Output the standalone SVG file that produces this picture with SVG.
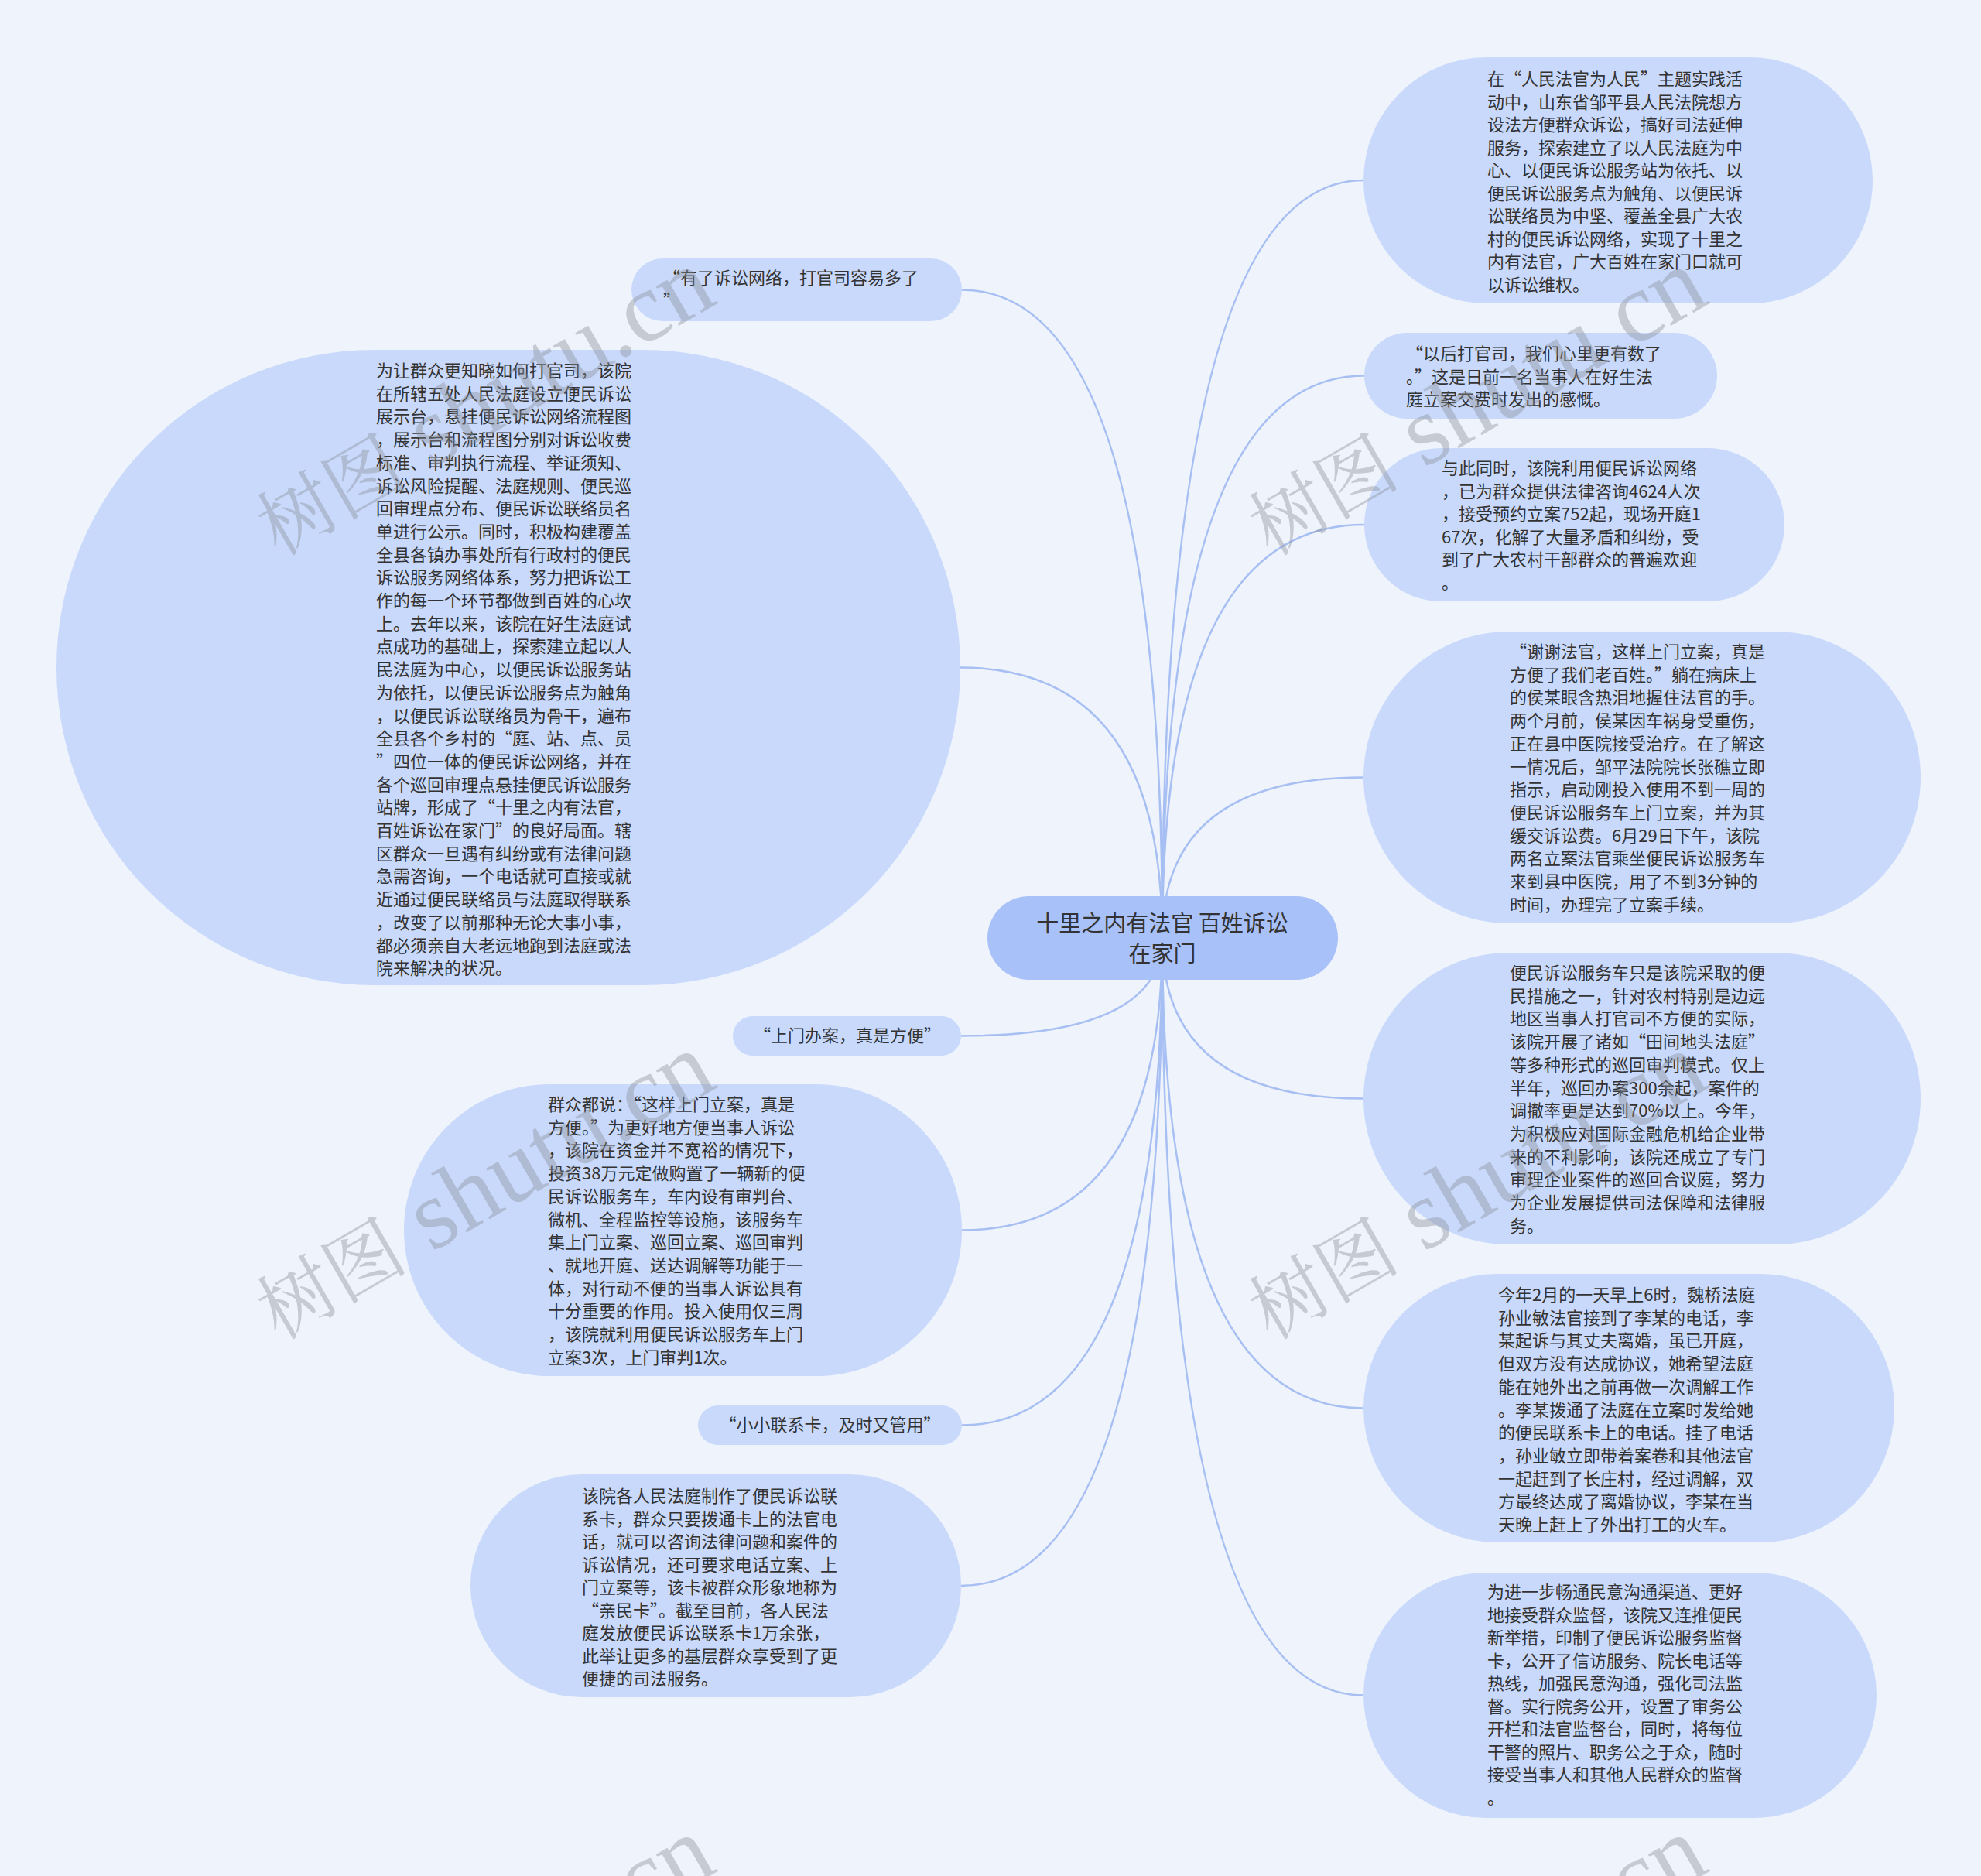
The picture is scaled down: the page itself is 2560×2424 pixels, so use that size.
<svg xmlns="http://www.w3.org/2000/svg" width="2560" height="2424" viewBox="0 0 2560 2424">
<defs>
<style>
.bg{fill:#eef3fc}
.n{fill:#c9d9fb}
.c{fill:#a9c1f9}
.t{font-family:"Noto Sans CJK SC","Microsoft YaHei",sans-serif;font-size:22px;fill:#333333}
.ct{font-family:"Noto Sans CJK SC","Microsoft YaHei",sans-serif;font-size:29px;fill:#333333}
.e{fill:none;stroke:#a7bff2;stroke-width:2.5}
.wm{font-family:"Liberation Serif","Noto Serif CJK SC","Noto Sans CJK SC",serif;font-size:128px;fill:#8a8f96;fill-opacity:0.4}
.wc{font-size:98px}
</style>
</defs>
<rect class="bg" x="0" y="0" width="2560" height="2424"/>
<g id="connectors">
<path class="e" d="M1502,1212 Q1502,233 1762,233"/>
<path class="e" d="M1502,1212 Q1502,485.5 1763,485.5"/>
<path class="e" d="M1502,1212 Q1502,678 1763,678"/>
<path class="e" d="M1502,1212 Q1502,1004.5 1762,1004.5"/>
<path class="e" d="M1502,1212 Q1502,1419.5 1762,1419.5"/>
<path class="e" d="M1502,1212 Q1502,1819.5 1762,1819.5"/>
<path class="e" d="M1502,1212 Q1502,2190.5 1762,2190.5"/>
<path class="e" d="M1502,1212 Q1502,374.5 1243,374.5"/>
<path class="e" d="M1502,1212 Q1502,862.5 1241,862.5"/>
<path class="e" d="M1502,1212 Q1502,1338.5 1242,1338.5"/>
<path class="e" d="M1502,1212 Q1502,1589.5 1243,1589.5"/>
<path class="e" d="M1502,1212 Q1502,1841.5 1243,1841.5"/>
<path class="e" d="M1502,1212 Q1502,2049 1242,2049"/>
</g>
<g id="root">
<rect class="c" x="1276" y="1158" width="453" height="108" rx="54"/>
<text class="ct" text-anchor="middle"><tspan x="1502" y="1204">十里之内有法官 百姓诉讼</tspan><tspan x="1502" y="1243">在家门</tspan></text>
</g>
<g id="r1">
<rect class="n" x="1762" y="74" width="658" height="318" rx="159"/>
<text class="t"><tspan x="1922" y="110">在“人民法官为人民”主题实践活</tspan><tspan x="1922" y="139.5">动中，山东省邹平县人民法院想方</tspan><tspan x="1922" y="169">设法方便群众诉讼，搞好司法延伸</tspan><tspan x="1922" y="198.5">服务，探索建立了以人民法庭为中</tspan><tspan x="1922" y="228">心、以便民诉讼服务站为依托、以</tspan><tspan x="1922" y="257.5">便民诉讼服务点为触角、以便民诉</tspan><tspan x="1922" y="287">讼联络员为中坚、覆盖全县广大农</tspan><tspan x="1922" y="316.5">村的便民诉讼网络，实现了十里之</tspan><tspan x="1922" y="346">内有法官，广大百姓在家门口就可</tspan><tspan x="1922" y="375.5">以诉讼维权。</tspan></text>
</g>
<g id="r2">
<rect class="n" x="1763" y="430" width="456" height="111" rx="55.5"/>
<text class="t"><tspan x="1817" y="465">“以后打官司，我们心里更有数了</tspan><tspan x="1817" y="494.5">。”这是日前一名当事人在好生法</tspan><tspan x="1817" y="524">庭立案交费时发出的感慨。</tspan></text>
</g>
<g id="r3">
<rect class="n" x="1763" y="579" width="543" height="198" rx="99"/>
<text class="t"><tspan x="1863" y="613">与此同时，该院利用便民诉讼网络</tspan><tspan x="1863" y="642.5">，已为群众提供法律咨询4624人次</tspan><tspan x="1863" y="672">，接受预约立案752起，现场开庭1</tspan><tspan x="1863" y="701.5">67次，化解了大量矛盾和纠纷，受</tspan><tspan x="1863" y="731">到了广大农村干部群众的普遍欢迎</tspan><tspan x="1863" y="760.5">。</tspan></text>
</g>
<g id="r4">
<rect class="n" x="1762" y="816" width="720" height="377" rx="188.5"/>
<text class="t"><tspan x="1951" y="850">“谢谢法官，这样上门立案，真是</tspan><tspan x="1951" y="879.7">方便了我们老百姓。”躺在病床上</tspan><tspan x="1951" y="909.4">的侯某眼含热泪地握住法官的手。</tspan><tspan x="1951" y="939.1">两个月前，侯某因车祸身受重伤，</tspan><tspan x="1951" y="968.8">正在县中医院接受治疗。在了解这</tspan><tspan x="1951" y="998.5">一情况后，邹平法院院长张礁立即</tspan><tspan x="1951" y="1028.2">指示，启动刚投入使用不到一周的</tspan><tspan x="1951" y="1057.9">便民诉讼服务车上门立案，并为其</tspan><tspan x="1951" y="1087.6">缓交诉讼费。6月29日下午，该院</tspan><tspan x="1951" y="1117.3">两名立案法官乘坐便民诉讼服务车</tspan><tspan x="1951" y="1147">来到县中医院，用了不到3分钟的</tspan><tspan x="1951" y="1176.7">时间，办理完了立案手续。</tspan></text>
</g>
<g id="r5">
<rect class="n" x="1762" y="1231" width="720" height="377" rx="188.5"/>
<text class="t"><tspan x="1951" y="1265">便民诉讼服务车只是该院采取的便</tspan><tspan x="1951" y="1294.7">民措施之一，针对农村特别是边远</tspan><tspan x="1951" y="1324.4">地区当事人打官司不方便的实际，</tspan><tspan x="1951" y="1354.1">该院开展了诸如“田间地头法庭”</tspan><tspan x="1951" y="1383.8">等多种形式的巡回审判模式。仅上</tspan><tspan x="1951" y="1413.5">半年，巡回办案300余起，案件的</tspan><tspan x="1951" y="1443.2">调撤率更是达到70%以上。今年，</tspan><tspan x="1951" y="1472.9">为积极应对国际金融危机给企业带</tspan><tspan x="1951" y="1502.6">来的不利影响，该院还成立了专门</tspan><tspan x="1951" y="1532.3">审理企业案件的巡回合议庭，努力</tspan><tspan x="1951" y="1562">为企业发展提供司法保障和法律服</tspan><tspan x="1951" y="1591.7">务。</tspan></text>
</g>
<g id="r6">
<rect class="n" x="1762" y="1646" width="686" height="347" rx="173.5"/>
<text class="t"><tspan x="1936" y="1681">今年2月的一天早上6时，魏桥法庭</tspan><tspan x="1936" y="1710.7">孙业敏法官接到了李某的电话，李</tspan><tspan x="1936" y="1740.4">某起诉与其丈夫离婚，虽已开庭，</tspan><tspan x="1936" y="1770.1">但双方没有达成协议，她希望法庭</tspan><tspan x="1936" y="1799.8">能在她外出之前再做一次调解工作</tspan><tspan x="1936" y="1829.5">。李某拨通了法庭在立案时发给她</tspan><tspan x="1936" y="1859.2">的便民联系卡上的电话。挂了电话</tspan><tspan x="1936" y="1888.9">，孙业敏立即带着案卷和其他法官</tspan><tspan x="1936" y="1918.6">一起赶到了长庄村，经过调解，双</tspan><tspan x="1936" y="1948.3">方最终达成了离婚协议，李某在当</tspan><tspan x="1936" y="1978">天晚上赶上了外出打工的火车。</tspan></text>
</g>
<g id="r7">
<rect class="n" x="1762" y="2032" width="663" height="317" rx="158.5"/>
<text class="t"><tspan x="1922" y="2065">为进一步畅通民意沟通渠道、更好</tspan><tspan x="1922" y="2094.5">地接受群众监督，该院又连推便民</tspan><tspan x="1922" y="2124">新举措，印制了便民诉讼服务监督</tspan><tspan x="1922" y="2153.5">卡，公开了信访服务、院长电话等</tspan><tspan x="1922" y="2183">热线，加强民意沟通，强化司法监</tspan><tspan x="1922" y="2212.5">督。实行院务公开，设置了审务公</tspan><tspan x="1922" y="2242">开栏和法官监督台，同时，将每位</tspan><tspan x="1922" y="2271.5">干警的照片、职务公之于众，随时</tspan><tspan x="1922" y="2301">接受当事人和其他人民群众的监督</tspan><tspan x="1922" y="2330.5">。</tspan></text>
</g>
<g id="l1">
<rect class="n" x="816" y="334" width="427" height="81" rx="40.5"/>
<text class="t"><tspan x="857" y="367">“有了诉讼网络，打官司容易多了</tspan><tspan x="857" y="396.7">”</tspan></text>
</g>
<g id="l2">
<rect class="n" x="73" y="452" width="1168" height="821" rx="410.5"/>
<text class="t"><tspan x="486" y="487">为让群众更知晓如何打官司，该院</tspan><tspan x="486" y="516.7">在所辖五处人民法庭设立便民诉讼</tspan><tspan x="486" y="546.4">展示台，悬挂便民诉讼网络流程图</tspan><tspan x="486" y="576.1">，展示台和流程图分别对诉讼收费</tspan><tspan x="486" y="605.8">标准、审判执行流程、举证须知、</tspan><tspan x="486" y="635.5">诉讼风险提醒、法庭规则、便民巡</tspan><tspan x="486" y="665.2">回审理点分布、便民诉讼联络员名</tspan><tspan x="486" y="694.9">单进行公示。同时，积极构建覆盖</tspan><tspan x="486" y="724.6">全县各镇办事处所有行政村的便民</tspan><tspan x="486" y="754.3">诉讼服务网络体系，努力把诉讼工</tspan><tspan x="486" y="784">作的每一个环节都做到百姓的心坎</tspan><tspan x="486" y="813.7">上。去年以来，该院在好生法庭试</tspan><tspan x="486" y="843.4">点成功的基础上，探索建立起以人</tspan><tspan x="486" y="873.1">民法庭为中心，以便民诉讼服务站</tspan><tspan x="486" y="902.8">为依托，以便民诉讼服务点为触角</tspan><tspan x="486" y="932.5">，以便民诉讼联络员为骨干，遍布</tspan><tspan x="486" y="962.2">全县各个乡村的“庭、站、点、员</tspan><tspan x="486" y="991.9">”四位一体的便民诉讼网络，并在</tspan><tspan x="486" y="1021.6">各个巡回审理点悬挂便民诉讼服务</tspan><tspan x="486" y="1051.3">站牌，形成了“十里之内有法官，</tspan><tspan x="486" y="1081">百姓诉讼在家门”的良好局面。辖</tspan><tspan x="486" y="1110.7">区群众一旦遇有纠纷或有法律问题</tspan><tspan x="486" y="1140.4">急需咨询，一个电话就可直接或就</tspan><tspan x="486" y="1170.1">近通过便民联络员与法庭取得联系</tspan><tspan x="486" y="1199.8">，改变了以前那种无论大事小事，</tspan><tspan x="486" y="1229.5">都必须亲自大老远地跑到法庭或法</tspan><tspan x="486" y="1259.2">院来解决的状况。</tspan></text>
</g>
<g id="l3">
<rect class="n" x="947" y="1313" width="295" height="51" rx="25.5"/>
<text class="t" text-anchor="middle" x="1095" y="1346">“上门办案，真是方便”</text>
</g>
<g id="l4">
<rect class="n" x="522" y="1401" width="721" height="377" rx="188.5"/>
<text class="t"><tspan x="708" y="1435">群众都说：“这样上门立案，真是</tspan><tspan x="708" y="1464.7">方便。”为更好地方便当事人诉讼</tspan><tspan x="708" y="1494.4">，该院在资金并不宽裕的情况下，</tspan><tspan x="708" y="1524.1">投资38万元定做购置了一辆新的便</tspan><tspan x="708" y="1553.8">民诉讼服务车，车内设有审判台、</tspan><tspan x="708" y="1583.5">微机、全程监控等设施，该服务车</tspan><tspan x="708" y="1613.2">集上门立案、巡回立案、巡回审判</tspan><tspan x="708" y="1642.9">、就地开庭、送达调解等功能于一</tspan><tspan x="708" y="1672.6">体，对行动不便的当事人诉讼具有</tspan><tspan x="708" y="1702.3">十分重要的作用。投入使用仅三周</tspan><tspan x="708" y="1732">，该院就利用便民诉讼服务车上门</tspan><tspan x="708" y="1761.7">立案3次，上门审判1次。</tspan></text>
</g>
<g id="l5">
<rect class="n" x="902" y="1816" width="341" height="51" rx="25.5"/>
<text class="t" text-anchor="middle" x="1072.5" y="1849">“小小联系卡，及时又管用”</text>
</g>
<g id="l6">
<rect class="n" x="608" y="1905" width="634" height="288" rx="144"/>
<text class="t"><tspan x="752" y="1941">该院各人民法庭制作了便民诉讼联</tspan><tspan x="752" y="1970.5">系卡，群众只要拨通卡上的法官电</tspan><tspan x="752" y="2000">话，就可以咨询法律问题和案件的</tspan><tspan x="752" y="2029.5">诉讼情况，还可要求电话立案、上</tspan><tspan x="752" y="2059">门立案等，该卡被群众形象地称为</tspan><tspan x="752" y="2088.5">“亲民卡”。截至目前，各人民法</tspan><tspan x="752" y="2118">庭发放便民诉讼联系卡1万余张，</tspan><tspan x="752" y="2147.5">此举让更多的基层群众享受到了更</tspan><tspan x="752" y="2177">便捷的司法服务。</tspan></text>
</g>
<g id="watermarks">
<text class="wm" text-anchor="middle" transform="translate(645,555) rotate(-30)"><tspan class="wc">树图</tspan> shutu.cn</text>
<text class="wm" text-anchor="middle" transform="translate(1927,555) rotate(-30)"><tspan class="wc">树图</tspan> shutu.cn</text>
<text class="wm" text-anchor="middle" transform="translate(645,1568) rotate(-30)"><tspan class="wc">树图</tspan> shutu.cn</text>
<text class="wm" text-anchor="middle" transform="translate(1927,1568) rotate(-30)"><tspan class="wc">树图</tspan> shutu.cn</text>
<text class="wm" text-anchor="middle" transform="translate(645,2581) rotate(-30)"><tspan class="wc">树图</tspan> shutu.cn</text>
<text class="wm" text-anchor="middle" transform="translate(1927,2581) rotate(-30)"><tspan class="wc">树图</tspan> shutu.cn</text>
</g>
</svg>
